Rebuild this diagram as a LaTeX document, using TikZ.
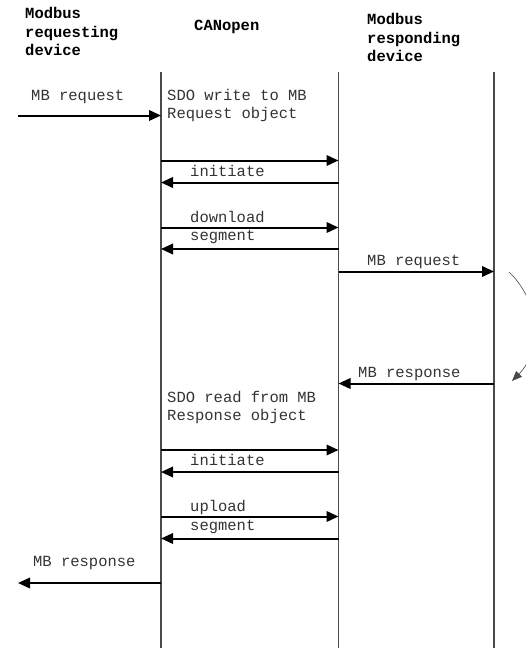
\documentclass[tikz,border=0pt]{standalone}
\usepackage{fontspec}
\setmonofont{Liberation Mono}
\usetikzlibrary{arrows.meta}
\definecolor{lifegray}{HTML}{4A4A4A}
\definecolor{labelgray}{HTML}{333333}
\begin{document}
\begin{tikzpicture}[x=1pt,y=-1pt,
  every node/.style={inner sep=0pt, font=\ttfamily\fontsize{15.5pt}{18.5pt}\selectfont},
  header/.style={anchor=base west, align=left, font=\ttfamily\bfseries\fontsize{15.5pt}{18.5pt}\selectfont},
  lbl/.style={anchor=base west, align=left, text=labelgray},
  lifeline/.style={draw=lifegray, line width=1.8pt},
  msg/.style={draw=black, line width=2pt, -{Triangle[length=12pt,width=10.5pt]}},
  loopback/.style={draw=lifegray, line width=0.6pt, -{Triangle[length=10pt,width=8pt]}}]
\clip (0,0) rectangle (526,648);

% column headers (anchored at the baseline of their last line)
\node[header] (hreq) at (25,55.5) {Modbus\\requesting\\device};
\node[header] (hcan) at (194,30) {CANopen};
\node[header] (hresp) at (367,61.5) {Modbus\\responding\\device};

% lifelines
\coordinate (A) at (161,72);  \coordinate (Ab) at (161,648);
\coordinate (B) at (338.5,72);  \coordinate (Bb) at (338.5,648);
\coordinate (C) at (494,72);  \coordinate (Cb) at (494,648);
\draw[lifeline] (A) -- (Ab);
\draw[lifeline] (B) -- (Bb);
\draw[lifeline] (C) -- (Cb);

% free ends on the requesting side
\coordinate (reqin) at (18,115.5);
\coordinate (respout) at (18,583);

% message levels
\coordinate (m1) at (0,115.5);
\coordinate (m2) at (0,160.5);
\coordinate (m3) at (0,182.5);
\coordinate (m4) at (0,227.5);
\coordinate (m5) at (0,249);
\coordinate (m6) at (0,271.5);
\coordinate (m7) at (0,383.5);
\coordinate (m8) at (0,450);
\coordinate (m9) at (0,472);
\coordinate (m10) at (0,516.5);
\coordinate (m11) at (0,538.5);
\coordinate (m12) at (0,583);

% write phase
\node[lbl] (t1) at (31,100) {MB request};
\draw[msg] (reqin) -- (A |- m1);
\node[lbl] (t2) at (167,118.5) {SDO write to MB\\Request object};
\draw[msg] (A |- m2) -- (B |- m2);
\node[lbl] (t3) at (190,176) {initiate};
\draw[msg] (B |- m3) -- (A |- m3);
\node[lbl] (t4) at (190,222.5) {download};
\draw[msg] (A |- m4) -- (B |- m4);
\node[lbl] (t5) at (190,240) {segment};
\draw[msg] (B |- m5) -- (A |- m5);

% Modbus exchange
\node[lbl] (t6) at (367,265) {MB request};
\draw[msg] (B |- m6) -- (C |- m6);
\coordinate (arcs) at (509,272);
\coordinate (arce) at (512,381);
\draw[loopback] (arcs) .. controls (541,302) and (541,352) .. (arce);
\node[lbl] (t7) at (358,377) {MB response};
\draw[msg] (C |- m7) -- (B |- m7);

% read phase
\node[lbl] (t8) at (167,420.5) {SDO read from MB\\Response object};
\draw[msg] (A |- m8) -- (B |- m8);
\node[lbl] (t9) at (190,465.5) {initiate};
\draw[msg] (B |- m9) -- (A |- m9);
\node[lbl] (t10) at (190,511.5) {upload};
\draw[msg] (A |- m10) -- (B |- m10);
\node[lbl] (t11) at (190,530.5) {segment};
\draw[msg] (B |- m11) -- (A |- m11);
\node[lbl] (t12) at (33,566.5) {MB response};
\draw[msg] (A |- m12) -- (respout);
\end{tikzpicture}
\end{document}
